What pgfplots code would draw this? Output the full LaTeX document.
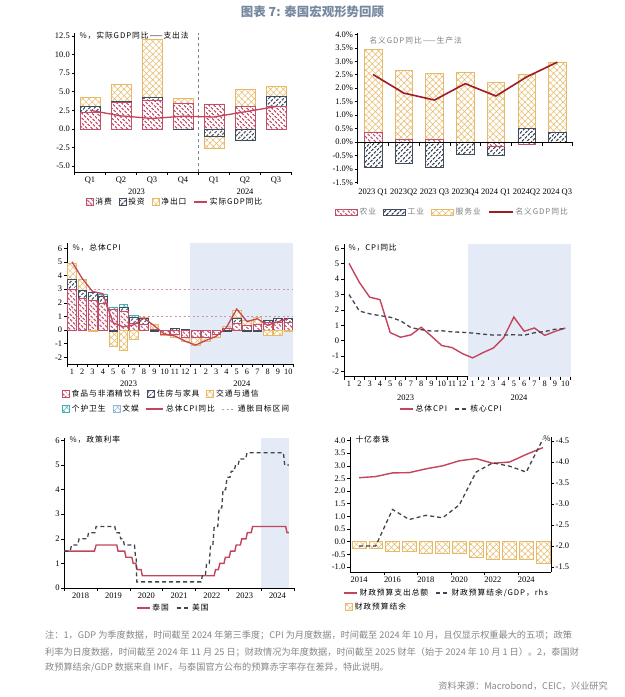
\documentclass[border=0pt]{standalone}
\usepackage{fontspec}
\setmainfont{Liberation Serif}
\newfontfamily\cjk{Noto Sans CJK SC}
\newfontfamily\cjkl{Noto Sans CJK SC}[LetterSpace=12]
\usepackage{pgfplots}
\usepackage{pgfplotstable}
\pgfplotsset{compat=1.18}
\usetikzlibrary{patterns.meta}

\definecolor{consC}{RGB}{192,80,105}
\definecolor{invC}{RGB}{66,76,92}
\definecolor{nxC}{RGB}{230,186,105}
\definecolor{tealC}{RGB}{70,175,180}
\definecolor{recC}{RGB}{150,182,218}
\definecolor{lineC}{RGB}{196,68,92}
\definecolor{darkred}{RGB}{158,28,36}
\definecolor{dgray}{RGB}{62,68,80}
\definecolor{shadeC}{RGB}{228,235,246}
\definecolor{titleC}{RGB}{118,136,160}
\definecolor{noteC}{RGB}{135,135,135}
\definecolor{tgtC}{RGB}{200,150,172}

\pgfplotsset{
 boxleg/.style={legend image code/.code={\draw[##1] (0bp,-3.5bp) rectangle (7bp,3.5bp);}},
 wideleg/.style={legend image code/.code={\draw[##1] (0bp,-3bp) rectangle (22bp,3bp);}},
 lineleg/.style={legend image code/.code={\draw[##1] (0bp,0bp) -- (13bp,0bp);}},
 lineleg2/.style={legend image code/.code={\draw[##1] (0bp,0bp) -- (24bp,0bp);}},
 consB/.style={draw=consC, line width=0.5bp, fill=white, postaction={pattern={Lines[angle=-45,distance=3.6bp,line width=1.4bp]}, pattern color=consC}, boxleg},
 invB/.style={draw=invC, line width=0.5bp, fill=white, postaction={pattern={Lines[angle=45,distance=3.6bp,line width=1.4bp]}, pattern color=invC}, boxleg},
 nxB/.style={draw=nxC, line width=0.6bp, fill=white, postaction={pattern={Hatch[angle=45,distance=4.5bp,line width=0.5bp]}, pattern color=nxC}, boxleg},
 tealB/.style={draw=tealC, line width=0.6bp, fill=white, postaction={pattern={Hatch[angle=45,distance=4.5bp,line width=0.5bp]}, pattern color=tealC}, boxleg},
 recB/.style={draw=recC, line width=0.6bp, fill=white, postaction={pattern={Hatch[angle=45,distance=4.5bp,line width=0.5bp]}, pattern color=recC}, boxleg},
 legs/.style={legend columns=-1, legend cell align=left, legend style={draw=none, fill=none, inner sep=0pt, font=\cjkl\fontsize{7.8}{9}\selectfont, /tikz/every even column/.append style={column sep=5bp}}},
 base/.style={scale only axis, anchor=south west, enlargelimits=false, axis x line*=bottom, axis y line*=left, axis line style={-,black,line width=0.6bp}, tick style={black,line width=0.6bp}, major tick length=3bp, tick align=outside, ticklabel style={font=\fontsize{8.5}{9}\selectfont, inner sep=1.5bp}, /pgf/number format/assume math mode=true, clip=false, xtick style={draw=none}, legs},
 hid/.style={scale only axis, anchor=south west, enlargelimits=false, hide axis, clip=false, legs},
 pA/.style={at={(74.5bp,525bp)}, width=217bp, height=139bp, xmin=-0.5, xmax=6.5, ymin=-5.8, ymax=12.9},
 pB/.style={at={(357.7bp,513.3bp)}, width=215bp, height=150.6bp, xmin=-0.5, xmax=6.5, ymin=-1.55, ymax=4.05},
 pC/.style={at={(66.8bp,333bp)}, width=226.6bp, height=121bp, xmin=-0.5, xmax=21.5, ymin=-2.5, ymax=6.4},
 pD/.style={at={(343.9bp,320.3bp)}, width=226.6bp, height=133bp, xmin=-0.5, xmax=21.5, ymin=-2.33, ymax=6.3},
 pE/.style={at={(64.3bp,109bp)}, width=229.6bp, height=150bp, xmin=2018, xmax=2025, ymin=0, ymax=6.1},
 pF/.style={at={(350bp,125bp)}, width=201bp, height=135bp, xmin=2013.46, xmax=2025.48},
}

\pgfplotstableread{
i F H T P
0 3.00 0.75 1.15 0
1 2.30 0.65 0.75 0
2 2.20 0.60 0 0
3 2.00 0.50 0 0.15
4 1.55 0 0 0.15
5 1.35 0.35 0 0.20
6 0.50 0.45 0 0.15
7 0.40 0.45 0.05 0
8 0.05 0 0.35 0
9 0 0 0 0
10 0 0.10 0 0
11 0 0.05 0 0
12 0 0 0 0
13 0 0 0 0
14 0 0 0 0
15 0.15 0 0.15 0
16 0.50 0.40 0.55 0
17 0.35 0 0.35 0
18 0.45 0 0.45 0
19 0.60 0.15 0 0
20 0.55 0.35 0 0
21 0.60 0.25 0 0
}\cpipos

\pgfplotstableread{
i F H T
0 0 0 0
1 0 0 0
2 0 0 -0.10
3 0 0 0
4 0 -0.10 -1.10
5 0 0 -1.50
6 0 0 -0.70
7 0 0 0
8 0 -0.10 0
9 -0.30 0 -0.10
10 -0.30 0 -0.20
11 -0.50 0 -0.35
12 -0.55 0 -0.55
13 -0.50 0 -0.30
14 -0.30 0 -0.20
15 0 -0.10 0
16 0 0 0
17 0 -0.10 0
18 0 -0.10 0
19 0 0 -0.40
20 0 0 -0.40
21 0 0 -0.10
}\cpineg

\pgfplotstableread{
i cpi core
0 5.02 3.00
1 3.79 1.93
2 2.83 1.75
3 2.67 1.63
4 0.53 1.53
5 0.23 1.30
6 0.38 0.86
7 0.88 0.72
8 0.30 0.63
9 -0.31 0.65
10 -0.44 0.58
11 -0.83 0.55
12 -1.11 0.50
13 -0.77 0.43
14 -0.47 0.37
15 0.19 0.37
16 1.54 0.39
17 0.62 0.36
18 0.83 0.52
19 0.35 0.60
20 0.61 0.75
21 0.83 0.79
}\cpiline

\begin{document}
\begin{tikzpicture}
\fill[white] (0,0) rectangle (625bp,697bp);
\useasboundingbox (0,0) rectangle (625bp,697bp);

% ---------- Title ----------
\node[font=\cjk\bfseries\fontsize{12.5}{14}\selectfont, text=titleC] at (312.5bp,685bp) {图表 7: 泰国宏观形势回顾};

% ================= Panel 1 =================
\begin{axis}[base, pA, ybar stacked, bar width=0.64,
  ytick={-5,-2.5,0,2.5,5,7.5,10,12.5},
  yticklabel style={/pgf/number format/fixed,/pgf/number format/fixed zerofill,/pgf/number format/precision=1},
  xtick={0,...,6}, xticklabels={Q1,Q2,Q3,Q4,Q1,Q2,Q3},
  legend style={at={(0.463,-0.216)}, anchor=center}]
\addplot[consB] coordinates {(0,2.2) (1,3.6) (2,3.9) (3,3.5) (4,3.35) (5,3.0) (6,3.1)};
\addlegendentry{消费}
\addplot[invB] coordinates {(0,0.8) (1,0.12) (2,0.3) (3,0) (4,0) (5,0) (6,1.35)};
\addlegendentry{投资}
\addplot[nxB] coordinates {(0,1.25) (1,2.3) (2,7.9) (3,0.55) (4,0) (5,2.3) (6,1.3)};
\addlegendentry{净出口}
\addlegendimage{lineleg, draw=lineC, line width=1.3bp}
\addlegendentry{实际GDP同比}
\draw[gray, dashed, line width=0.5bp] (axis cs:3.5,-5.8) -- (axis cs:3.5,12.9);
\pgfplotsinvokeforeach{-0.5,0.5,...,6.5}{\draw[black,line width=0.6bp] (axis cs:#1,-5.8) -- ++(0bp,-3.5bp);}
\node[font=\fontsize{8.5}{9}\selectfont, yshift=-20bp] at (axis cs:1.5,-5.8) {2023};
\node[font=\fontsize{8.5}{9}\selectfont, yshift=-20bp] at (axis cs:5,-5.8) {2024};
\end{axis}
\begin{axis}[hid, pA, ybar stacked, bar width=0.64]
\addplot[invB] coordinates {(0,0) (1,0) (2,0) (3,-0.1) (4,-1.03) (5,-1.47) (6,0)};
\addplot[nxB] coordinates {(0,0) (1,0) (2,0) (3,0) (4,-1.57) (5,0) (6,0)};
\end{axis}
\begin{axis}[hid, pA]
\addplot[lineC, line width=1.3bp] coordinates {(0,2.5) (1,1.75) (2,1.4) (3,1.7) (4,1.6) (5,2.3) (6,3.0)};
\end{axis}
\node[anchor=west, font=\cjkl\fontsize{7.8}{9}\selectfont] at (76bp,661bp) {\%，实际GDP同比——支出法};

% ================= Panel 2 =================
\begin{axis}[base, pB, ybar stacked, bar width=0.57, separate axis lines, x axis line style={draw=none},
  ytick={-1.5,-1,...,4},
  yticklabel={\pgfmathprintnumber[fixed,fixed zerofill,precision=1]{\tick}\%},
  xtick={0,...,6}, xticklabels={2023 Q1,2023Q2,2023 Q3,2023Q4,2024 Q1,2024Q2,2024 Q3},
  legend style={at={(0.441,-0.188)}, anchor=center, text=gray}]
\addplot[consB, wideleg] coordinates {(0,0.35) (1,0.1) (2,0.1) (3,0) (4,0) (5,0) (6,0)};
\addlegendentry{农业}
\addplot[invB, wideleg] coordinates {(0,0) (1,0) (2,0) (3,0) (4,0) (5,0.5) (6,0.35)};
\addlegendentry{工业}
\addplot[nxB, wideleg] coordinates {(0,3.1) (1,2.55) (2,2.45) (3,2.6) (4,2.22) (5,2.0) (6,2.62)};
\addlegendentry{服务业}
\addlegendimage{lineleg2, draw=darkred, line width=1.6bp}
\addlegendentry{名义GDP同比}
\end{axis}
\begin{axis}[hid, pB, ybar stacked, bar width=0.57]
\addplot[consB] coordinates {(0,0) (1,0) (2,0) (3,0) (4,-0.15) (5,-0.1) (6,-0.02)};
\addplot[invB] coordinates {(0,-0.95) (1,-0.8) (2,-0.95) (3,-0.45) (4,-0.33) (5,0) (6,0)};
\end{axis}
\begin{axis}[hid, pB]
\draw[black, line width=0.6bp] (axis cs:-0.5,0) -- (axis cs:6.5,0);
\pgfplotsinvokeforeach{-0.5,0.5,...,6.5}{\draw[black,line width=0.6bp] (axis cs:#1,0) -- ++(0bp,-3.5bp);}
\addplot[darkred, line width=1.6bp] coordinates {(0,2.51) (1,1.82) (2,1.56) (3,2.17) (4,1.71) (5,2.42) (6,2.97)};
\end{axis}
\node[anchor=west, font=\cjkl\fontsize{7.8}{9}\selectfont, text=gray] at (366bp,656bp) {名义GDP同比——生产法};

% ================= Panel 3 =================
\begin{axis}[hid, pC]
\addplot[fill=shadeC, draw=none] coordinates {(11.5,-2.5) (11.5,6.4) (21.5,6.4) (21.5,-2.5)};
\addplot[tgtC, line width=1bp, dash pattern=on 2bp off 2.5bp] coordinates {(-0.5,3) (21.5,3)};
\addplot[tgtC, line width=1bp, dash pattern=on 2bp off 2.5bp] coordinates {(-0.5,1) (21.5,1)};
\end{axis}
\begin{axis}[base, pC, ybar stacked, bar width=0.84,
  ytick={-2,-1,...,6},
  xtick={0,...,21}, xticklabels={1,2,3,4,5,6,7,8,9,10,11,12,1,2,3,4,5,6,7,8,9,10},
  xticklabel style={font=\fontsize{8.3}{9}\selectfont},
  legend style={at={(-0.021,-0.248)}, anchor=west}]
\addplot[consB] table[x=i,y=F] {\cpipos};
\addlegendentry{食品与非酒精饮料}
\addplot[invB] table[x=i,y=H] {\cpipos};
\addlegendentry{住房与家具}
\addplot[nxB] table[x=i,y=T] {\cpipos};
\addlegendentry{交通与通信}
\addplot[tealB] table[x=i,y=P] {\cpipos};
\pgfplotsinvokeforeach{-0.5,0.5,...,21.5}{\draw[black,line width=0.6bp] (axis cs:#1,-2.5) -- ++(0bp,-3.5bp);}
\node[font=\fontsize{8.5}{9}\selectfont, yshift=-20bp] at (axis cs:5.5,-2.5) {2023};
\node[font=\fontsize{8.5}{9}\selectfont, yshift=-20bp] at (axis cs:16.5,-2.5) {2024};
\end{axis}
\begin{axis}[hid, pC, ybar stacked, bar width=0.84]
\addplot[consB] table[x=i,y=F] {\cpineg};
\addplot[invB] table[x=i,y=H] {\cpineg};
\addplot[nxB] table[x=i,y=T] {\cpineg};
\end{axis}
\begin{axis}[hid, pC, legend style={at={(-0.021,-0.372)}, anchor=west}]
\addlegendimage{tealB}
\addlegendentry{个护卫生}
\addlegendimage{recB}
\addlegendentry{文娱}
\addplot[lineC, line width=1.3bp] table[x=i,y=cpi] {\cpiline};
\addlegendentry{总体CPI同比}
\addlegendimage{lineleg, draw=tgtC, line width=1bp, dash pattern=on 2bp off 2.5bp}
\addlegendentry{通胀目标区间}
\end{axis}
\node[anchor=west, font=\cjkl\fontsize{7.8}{9}\selectfont] at (69bp,449bp) {\%，总体CPI};

% ================= Panel 4 =================
\begin{axis}[base, pD,
  ytick={-2,-1,...,6},
  xtick={0,...,21}, xticklabels={1,2,3,4,5,6,7,8,9,10,11,12,1,2,3,4,5,6,7,8,9,10},
  xticklabel style={font=\fontsize{8.3}{9}\selectfont},
  legend style={at={(0.475,-0.243)}, anchor=center}]
\addplot[forget plot, fill=shadeC, draw=none] coordinates {(11.5,-2.33) (11.5,6.3) (21.5,6.3) (21.5,-2.33)};
\addplot[lineC, line width=1.4bp, lineleg] table[x=i,y=cpi] {\cpiline};
\addlegendentry{总体CPI}
\addplot[dgray, line width=1.3bp, dash pattern=on 4bp off 3bp, lineleg] table[x=i,y=core] {\cpiline};
\addlegendentry{核心CPI}
\pgfplotsinvokeforeach{-0.5,0.5,...,21.5}{\draw[black,line width=0.6bp] (axis cs:#1,-2.33) -- ++(0bp,-3.5bp);}
\node[font=\fontsize{8.5}{9}\selectfont, yshift=-21bp] at (axis cs:5.5,-2.33) {2023};
\node[font=\fontsize{8.5}{9}\selectfont, yshift=-21bp] at (axis cs:16.5,-2.33) {2024};
\end{axis}
\node[anchor=west, font=\cjkl\fontsize{7.8}{9}\selectfont] at (345bp,449bp) {\%，CPI同比};

% ================= Panel 5 =================
\begin{axis}[base, pE,
  ytick={0,1,...,6},
  xtick={2018.5,2019.5,...,2024.5}, xticklabels={2018,2019,2020,2021,2022,2023,2024},
  legend style={at={(0.475,-0.133)}, anchor=center}]
\addplot[forget plot, fill=shadeC, draw=none] coordinates {(2024,0) (2024,6.1) (2024.86,6.1) (2024.86,0)};
\addplot[lineC, line width=1.4bp, lineleg] coordinates {
(2018.00,1.50) (2018.92,1.50) (2018.97,1.75) (2019.60,1.75) (2019.64,1.50) (2019.84,1.50) (2019.88,1.25)
(2020.06,1.25) (2020.10,1.00) (2020.18,1.00) (2020.22,0.75) (2020.34,0.75) (2020.38,0.50) (2022.57,0.50)
(2022.61,0.75) (2022.70,0.75) (2022.74,1.00) (2022.87,1.00) (2022.91,1.25) (2023.03,1.25) (2023.07,1.50)
(2023.20,1.50) (2023.24,1.75) (2023.37,1.75) (2023.41,2.00) (2023.54,2.00) (2023.58,2.25) (2023.70,2.25)
(2023.74,2.50) (2024.75,2.50) (2024.79,2.25) (2024.85,2.25)};
\addlegendentry{泰国}
\addplot[dgray, line width=1.3bp, dash pattern=on 4bp off 3bp, lineleg] coordinates {
(2018.00,1.50) (2018.18,1.50) (2018.22,1.75) (2018.41,1.75) (2018.45,2.00) (2018.70,2.00) (2018.74,2.25)
(2018.93,2.25) (2018.97,2.50) (2019.54,2.50) (2019.58,2.25) (2019.68,2.25) (2019.72,2.00) (2019.79,2.00)
(2019.83,1.75) (2020.14,1.75) (2020.17,1.25) (2020.19,1.25) (2020.21,0.25) (2022.17,0.25) (2022.21,0.50)
(2022.30,0.50) (2022.34,1.00) (2022.42,1.00) (2022.46,1.75) (2022.53,1.75) (2022.57,2.50) (2022.68,2.50)
(2022.72,3.25) (2022.80,3.25) (2022.84,4.00) (2022.92,4.00) (2022.96,4.50) (2023.05,4.50) (2023.09,4.75)
(2023.18,4.75) (2023.22,5.00) (2023.30,5.00) (2023.34,5.25) (2023.53,5.25) (2023.57,5.50) (2024.68,5.50)
(2024.72,5.00) (2024.85,5.00)};
\addlegendentry{美国}
\pgfplotsinvokeforeach{2018,2019,...,2025}{\draw[black,line width=0.6bp] (axis cs:#1,0) -- ++(0bp,-3.5bp);}
\end{axis}
\node[anchor=west, font=\cjkl\fontsize{7.8}{9}\selectfont] at (66bp,257bp) {\%，政策利率};

% ================= Panel 6 =================
\begin{axis}[base, pF, ymin=-1.2, ymax=4.14,
  ytick={-1,-0.5,...,4},
  yticklabel style={/pgf/number format/fixed,/pgf/number format/fixed zerofill,/pgf/number format/precision=1},
  xtick={2014,2016,...,2024}, xticklabels={2014,2016,2018,2020,2022,2024},
  legend style={at={(-0.025,-0.259)}, anchor=west}]
\addplot[ybar, bar width=0.82, nxB] coordinates {(2014,-0.25) (2015,-0.25) (2016,-0.39) (2017,-0.39) (2018,-0.45) (2019,-0.45) (2020,-0.47) (2021,-0.61) (2022,-0.70) (2023,-0.70) (2024,-0.69) (2025,-0.84)};
\addlegendentry{财政预算结余}
\addplot[lineC, line width=1.4bp] coordinates {(2014,2.53) (2015,2.575) (2016,2.72) (2017,2.73) (2018,2.88) (2019,3.0) (2020,3.2) (2021,3.285) (2022,3.1) (2023,3.15) (2024,3.45) (2025,3.72)};
\pgfplotsinvokeforeach{2015.5,2017.5,...,2023.5}{\draw[black,line width=0.6bp] (axis cs:#1,-1.2) -- ++(0bp,-3.5bp);}
\end{axis}
\begin{axis}[base, pF, axis x line=none, axis y line*=right, y dir=reverse, ymin=-4.595, ymax=-1.38,
  ytick={-4.5,-4,...,-1.5},
  yticklabel style={/pgf/number format/fixed,/pgf/number format/fixed zerofill,/pgf/number format/precision=1},
  legend style={at={(-0.035,-0.156)}, anchor=west}]
\addlegendimage{lineleg, draw=lineC, line width=1.4bp}
\addlegendentry{财政预算支出总额}
\addplot[dgray, line width=1.3bp, dash pattern=on 4bp off 3bp, lineleg] coordinates {(2014,-2.0) (2015,-2.0) (2016,-2.87) (2017,-2.63) (2018,-2.73) (2019,-2.67) (2020,-2.98) (2021,-3.76) (2022,-3.98) (2023,-3.9) (2024,-3.76) (2025,-4.55)};
\addlegendentry{财政预算结余/GDP，rhs}
\end{axis}
\node[anchor=west, font=\cjkl\fontsize{7.8}{9}\selectfont] at (352bp,257bp) {十亿泰铢};
\node[font=\cjkl\fontsize{7.8}{9}\selectfont] at (547bp,258bp) {\%};

% ---------- Notes ----------
\begin{scope}[every node/.style={anchor=west, font=\cjk\fontsize{9.2}{11}\selectfont, text=noteC, inner sep=0pt}]
\node at (45bp,62bp) {注：1，GDP 为季度数据，时间截至 2024 年第三季度；CPI 为月度数据，时间截至 2024 年 10 月，且仅显示权重最大的五项；政策};
\node at (45bp,45bp) {利率为日度数据，时间截至 2024 年 11 月 25 日；财政情况为年度数据，时间截至 2025 财年（始于 2024 年 10 月 1 日）。2，泰国财};
\node at (45bp,30bp) {政预算结余/GDP 数据来自 IMF，与泰国官方公布的预算赤字率存在差异，特此说明。};
\node[anchor=east] at (608bp,11bp) {资料来源：Macrobond，CEIC，兴业研究};
\end{scope}
\end{tikzpicture}
\end{document}
